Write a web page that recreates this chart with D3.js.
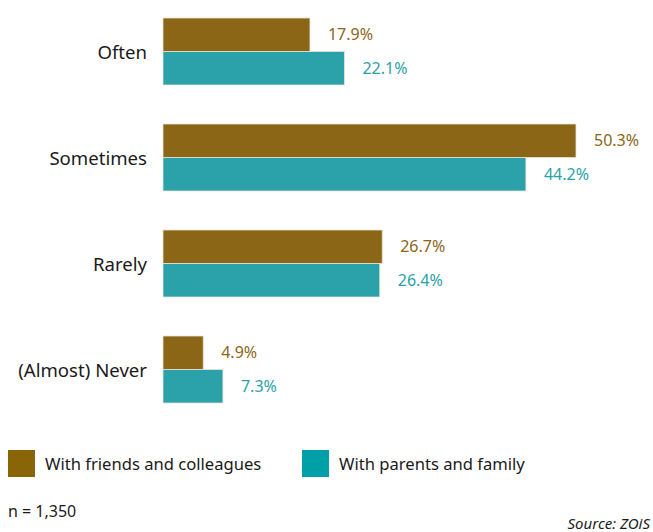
<!DOCTYPE html>
<html>
<head>
<meta charset="utf-8">
<script src="https://cdn.jsdelivr.net/npm/d3@7"></script>
<style>
  body { margin: 0; background: #fff; }
  svg { display: block; font-family: "Noto Sans", "Open Sans", sans-serif; }
</style>
</head>
<body>
<svg id="chart" width="653" height="532"></svg>
<script>
// Frequency categories and shares (%) for each group
const categories = ["Often", "Sometimes", "Rarely", "(Almost) Never"];
const seriesNames = ["With friends and colleagues", "With parents and family"];
const friends = [17.9, 50.3, 26.7, 4.9];
const family = [22.1, 44.2, 26.4, 7.3];
const sampleNote = "n = 1,350";
const sourceNote = "Source: ZOiS";

const barColors = ["#8b6617", "#2ba1a9"];
const legendColors = ["#8a6508", "#00a0a8"];

const svg = d3.select("#chart");

const x = d3.scaleLinear().domain([0, 50.3]).range([163, 576]);
const y = d3.scaleBand().domain(categories).range([18, 403]).paddingInner(0.368).paddingOuter(0);
const sub = d3.scaleBand().domain([0, 1]).range([0, y.bandwidth()]);

const rows = categories.map((c, i) => ({ cat: c, vals: [friends[i], family[i]] }));

const g = svg.append("g");
const groups = g.selectAll("g.row").data(rows).join("g")
  .attr("class", "row")
  .attr("transform", d => `translate(0,${y(d.cat)})`);

groups.selectAll("rect").data(d => d.vals).join("rect")
  .attr("x", x(0))
  .attr("y", (v, j) => sub(j))
  .attr("width", v => x(v) - x(0))
  .attr("height", sub.bandwidth())
  .attr("fill", (v, j) => barColors[j])
  .attr("stroke", "#e9e3d6")
  .attr("stroke-width", 0.8);

groups.selectAll("text.val").data(d => d.vals).join("text")
  .attr("class", "val")
  .attr("x", v => x(v) + 18)
  .attr("y", (v, j) => sub(j) + sub.bandwidth() / 2)
  .attr("dy", "0.35em")
  .attr("font-size", 16)
  .attr("fill", (v, j) => barColors[j])
  .text(v => v.toFixed(1) + "%");

// Category axis labels
const yAxis = d3.axisLeft(y).tickSize(0).tickPadding(16);
const ax = svg.append("g").attr("transform", `translate(${x(0)},1.5)`).call(yAxis);
ax.select(".domain").remove();
ax.selectAll("text")
  .attr("font-size", 18.6)
  .attr("font-family", "\"Noto Sans\", \"Open Sans\", sans-serif")
  .attr("fill", "#1a1a1a");

// Legend
const legendX = [8, 302];
const legend = svg.append("g");
seriesNames.forEach((name, i) => {
  legend.append("rect")
    .attr("x", legendX[i]).attr("y", 450)
    .attr("width", 27).attr("height", 27)
    .attr("fill", legendColors[i]);
  legend.append("text")
    .attr("x", legendX[i] + 37).attr("y", 464)
    .attr("dy", "0.35em")
    .attr("font-size", 16.6)
    .attr("fill", "#1a1a1a")
    .text(name);
});

svg.append("text")
  .attr("x", 8).attr("y", 511).attr("dy", "0.35em")
  .attr("font-size", 16).attr("fill", "#1a1a1a")
  .text(sampleNote);

svg.append("text")
  .attr("x", 650).attr("y", 524).attr("dy", "0.35em")
  .attr("text-anchor", "end")
  .attr("font-size", 15).attr("font-style", "italic").attr("fill", "#1a1a1a")
  .text(sourceNote);
</script>
</body>
</html>
